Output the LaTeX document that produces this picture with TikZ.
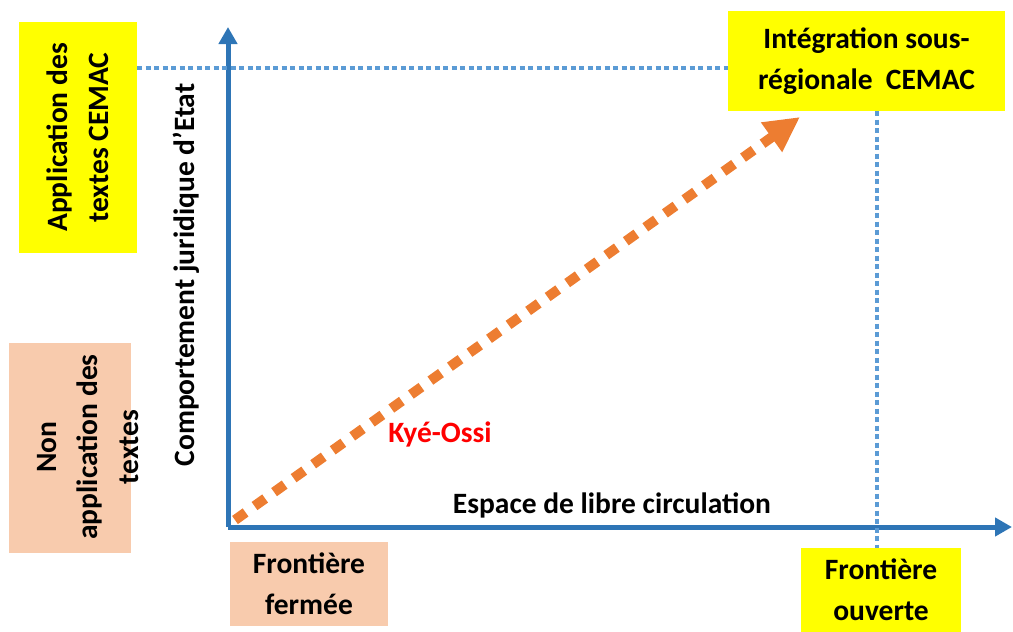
\documentclass[tikz,border=0pt]{standalone}
\usepackage{fontspec}
\setmainfont{Carlito}
\usepackage{tikz}
\usetikzlibrary{arrows.meta,positioning,calc}
\definecolor{AxisBlue}{RGB}{46,117,182}
\definecolor{DotBlue}{RGB}{91,155,213}
\definecolor{ArrOrange}{RGB}{237,125,49}
\definecolor{BoxYellow}{RGB}{255,255,0}
\definecolor{BoxPeach}{RGB}{248,203,173}
\definecolor{LabelRed}{RGB}{255,0,0}

\begin{document}
\begin{tikzpicture}[x=1pt,y=-1pt,
  lbl/.style={font=\fontsize{29.5}{41}\selectfont\bfseries,align=center,inner sep=0pt},
  box/.style={lbl,minimum width=#1},
  axis/.style={-{Triangle[length=17pt,width=18pt]},line width=5pt,AxisBlue},
  guide/.style={line width=4.5pt,DotBlue,dash pattern=on 5pt off 3.5pt},
]
\useasboundingbox (0,0) rectangle (1013,632);
% boxes
\node[box=231,fill=BoxYellow,minimum height=118,rotate=90] (appl) at (78,137.5)
  {Application des\\textes CEMAC};
\node[fill=BoxPeach,minimum width=122,minimum height=210,inner sep=0pt] (nonbox) at (70,448) {};
\node[lbl,rotate=90] (nontxt) at (88,447) {Non\\application des\\textes};
\node[box=277,fill=BoxYellow,minimum height=100] (intg) at (866.5,61)
  {Intégration sous-\\régionale\ \ CEMAC};
\node[box=158,fill=BoxPeach,minimum height=84] (ferm) at (309,584)
  {Frontière\\fermée};
\node[box=160,fill=BoxYellow,minimum height=84] (ouv) at (881,590)
  {Frontière\\ouverte};
% axes
\coordinate (orig) at (228,527);
\coordinate (ytip) at (228,27);
\coordinate (xtip) at (1012,527);
\draw[axis] (orig) -- (ytip);
\draw[axis] (orig) -- (xtip);
\node[lbl,rotate=90] (ylab) at (186,275) {Comportement juridique d’Etat};
\node[lbl,anchor=base] (xlab) at (612,513) {Espace de libre circulation};
% guides
\coordinate (lvl) at (0,68);
\coordinate (col) at (877,0);
\draw[guide] (appl.south |- lvl) -- (intg.west |- lvl);
\draw[guide] (intg.south -| col) -- (ouv.north -| col);
% path
\coordinate (start) at (235,520);
\coordinate (goal) at (800,117);
\draw[ArrOrange,line width=10pt,dash pattern=on 13pt off 11pt,
      -{Triangle[length=35pt,width=34pt]}] (start) -- (goal);
\node[lbl,text=LabelRed,anchor=base] (kye) at (440,442) {Kyé-Ossi};
\end{tikzpicture}
\end{document}
